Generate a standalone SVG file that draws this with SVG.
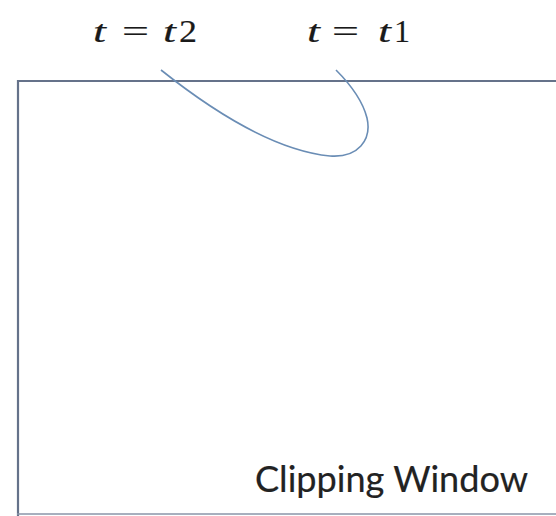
<svg xmlns="http://www.w3.org/2000/svg" width="556" height="516" viewBox="0 0 556 516">
<style>
.m{font-family:"Liberation Serif","DejaVu Serif",serif;font-size:31px;fill:#1a1a1a;stroke:#1a1a1a;stroke-width:0.15}
.i{font-style:italic}
.lbl{font-family:Lato,"Open Sans","Liberation Sans",sans-serif;font-size:37px;fill:#222222;stroke:#222222;stroke-width:0.2}
</style>
<rect width="556" height="516" fill="#ffffff"/>
<g id="window">
<path d="M18,516 L18,81 L560,81" fill="none" stroke="#65728a" stroke-width="2.2"/>
<line x1="17" y1="514" x2="560" y2="514" stroke="#8a95a8" stroke-width="1.5"/>
<text class="lbl" x="255" y="492" textLength="273" lengthAdjust="spacingAndGlyphs">Clipping Window</text>
</g>
<g id="label-t2">
<text class="m i" x="93" y="42" textLength="13" lengthAdjust="spacingAndGlyphs">t</text>
<text class="m" x="122" y="42" textLength="27" lengthAdjust="spacingAndGlyphs">=</text>
<text class="m i" x="163" y="42" textLength="13" lengthAdjust="spacingAndGlyphs">t</text>
<text class="m" x="179" y="42" textLength="18" lengthAdjust="spacingAndGlyphs">2</text>
</g>
<g id="label-t1">
<text class="m i" x="307" y="42" textLength="13" lengthAdjust="spacingAndGlyphs">t</text>
<text class="m" x="332" y="42" textLength="27" lengthAdjust="spacingAndGlyphs">=</text>
<text class="m i" x="378" y="42" textLength="13" lengthAdjust="spacingAndGlyphs">t</text>
<text class="m" x="394" y="42" textLength="16" lengthAdjust="spacingAndGlyphs">1</text>
</g>
<g id="connectors">
<path d="M161,70 C205,105 270,150 330,156 C358,158 372,140 367,118 C362,98 348,82 336,70" fill="none" stroke="#6a8db5" stroke-width="1.6"/>
</g>
</svg>
